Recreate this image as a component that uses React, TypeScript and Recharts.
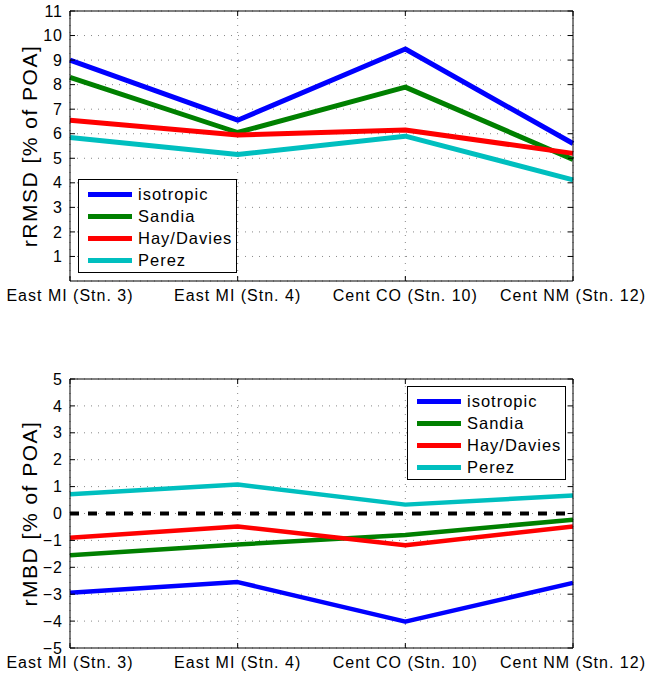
import React from "react"
import {
  LineChart,
  Line,
  XAxis,
  YAxis,
  CartesianGrid,
  ReferenceLine,
  Legend,
} from "recharts"

const FONT = '"Liberation Sans", Arial, Helvetica, sans-serif'

// stations along the x axis
const stations = ["East MI (Stn. 3)", "East MI (Stn. 4)", "Cent CO (Stn. 10)", "Cent NM (Stn. 12)"]

// relative RMS difference, % of plane-of-array irradiance
const rmsdIsotropic = [9.0, 6.55, 9.45, 5.6]
const rmsdSandia = [8.3, 6.05, 7.9, 4.95]
const rmsdHayDavies = [6.55, 5.95, 6.15, 5.2]
const rmsdPerez = [5.85, 5.15, 5.9, 4.12]

// relative mean bias difference, % of plane-of-array irradiance
const mbdIsotropic = [-2.95, -2.55, -4.02, -2.58]
const mbdSandia = [-1.55, -1.15, -0.8, -0.23]
const mbdHayDavies = [-0.9, -0.48, -1.18, -0.48]
const mbdPerez = [0.72, 1.08, 0.33, 0.67]

const rmsdTicks = [1, 2, 3, 4, 5, 6, 7, 8, 9, 10, 11]
const mbdTicks = [-5, -4, -3, -2, -1, 0, 1, 2, 3, 4, 5]

const models = [
  { key: "isotropic", color: "#0000FF" },
  { key: "Sandia", color: "#008000" },
  { key: "Hay/Davies", color: "#FF0000" },
  { key: "Perez", color: "#00BFBF" },
]
const modelOrder = models.map((m) => m.key)

const rmsdData = stations.map((name, i) => ({
  name,
  isotropic: rmsdIsotropic[i],
  Sandia: rmsdSandia[i],
  "Hay/Davies": rmsdHayDavies[i],
  Perez: rmsdPerez[i],
}))

const mbdData = stations.map((name, i) => ({
  name,
  isotropic: mbdIsotropic[i],
  Sandia: mbdSandia[i],
  "Hay/Davies": mbdHayDavies[i],
  Perez: mbdPerez[i],
}))

const tickStyle = { fontSize: 16, fill: "#000", fontFamily: FONT, letterSpacing: 1 }
const minus = (v: number) => String(v).replace("-", "\u2212")

function AxisTitle({ viewBox, text }: any) {
  const px = 37
  const py = (viewBox?.y ?? 0) + (viewBox?.height ?? 0) / 2
  return (
    <text
      x={px}
      y={py}
      transform={`rotate(-90 ${px} ${py})`}
      textAnchor="middle"
      fontSize={21}
      letterSpacing={1.5}
      fontFamily={FONT}
      fill="#000"
    >
      {text}
    </text>
  )
}

function LegendBox({ payload }: any) {
  // keep the plotting order rather than the alphabetical one
  const items = [...(payload || [])].sort(
    (a: any, b: any) => modelOrder.indexOf(a.value) - modelOrder.indexOf(b.value)
  )
  return (
    <div
      style={{
        border: "1px solid #000",
        background: "#fff",
        width: 159,
        height: 94,
        boxSizing: "border-box",
        paddingTop: 3,
        paddingLeft: 9,
        fontFamily: FONT,
        fontSize: 16.5,
        letterSpacing: 1,
        color: "#000",
      }}
    >
      {items.map((p: any) => (
        <div key={p.value} style={{ display: "flex", alignItems: "center", height: 22 }}>
          <span style={{ display: "inline-block", width: 44, height: 5, background: p.color, marginRight: 6 }} />
          <span>{p.value}</span>
        </div>
      ))}
    </div>
  )
}

function Panel({
  data,
  domain,
  ticks,
  title,
  height,
  margin,
  xHeight,
  legendTop,
  legendLeft,
  lineWidth,
  zeroLine,
}: any) {
  return (
    <LineChart width={647} height={height} data={data} margin={margin}>
      <CartesianGrid
        xAxisId="b"
        yAxisId="l"
        stroke="#888"
        strokeDasharray="1 6"
      />
      <XAxis
        xAxisId="b"
        dataKey="name"
        interval={0}
        height={xHeight}
        padding={{ left: 0, right: 0 }}
        axisLine={{ stroke: "#000" }}
        tickLine={{ stroke: "#000" }}
        tickSize={-5}
        tickMargin={14}
        tick={tickStyle}
      />
      <XAxis
        xAxisId="t"
        dataKey="name"
        orientation="top"
        interval={0}
        height={1}
        padding={{ left: 0, right: 0 }}
        axisLine={{ stroke: "#000" }}
        tickLine={{ stroke: "#000" }}
        tickSize={-5}
        tickFormatter={() => ""}
      />
      <YAxis
        yAxisId="l"
        width={70}
        domain={domain}
        ticks={ticks}
        interval={0}
        allowDataOverflow
        axisLine={{ stroke: "#000" }}
        tickLine={{ stroke: "#000" }}
        tickSize={-5}
        tickMargin={12}
        tick={tickStyle}
        tickFormatter={minus}
        label={<AxisTitle text={title} />}
      />
      <YAxis
        yAxisId="r"
        orientation="right"
        width={1}
        domain={domain}
        ticks={ticks}
        interval={0}
        allowDataOverflow
        axisLine={{ stroke: "#000" }}
        tickLine={{ stroke: "#000" }}
        tickSize={-5}
        tickFormatter={() => ""}
      />
      {zeroLine && (
        <ReferenceLine
          xAxisId="b"
          yAxisId="l"
          y={0}
          stroke="#000"
          strokeWidth={4}
          strokeDasharray="9 9"
        />
      )}
      {models.map((m) => (
        <Line
          key={m.key}
          xAxisId="b"
          yAxisId="l"
          type="linear"
          dataKey={m.key}
          name={m.key}
          stroke={m.color}
          strokeWidth={lineWidth}
          strokeLinejoin="round"
          dot={false}
          activeDot={false}
          isAnimationActive={false}
        />
      ))}
      <Legend
        layout="vertical"
        align="center"
        verticalAlign="middle"
        content={<LegendBox />}
        wrapperStyle={{ left: legendLeft, top: legendTop, width: 159, height: 94 }}
      />
    </LineChart>
  )
}

export default function App() {
  return (
    <div
      style={{
        position: "absolute",
        left: 0,
        top: 0,
        width: 647,
        height: 678,
        background: "#fff",
        fontFamily: FONT,
      }}
    >
      <div style={{ position: "absolute", left: 0, top: 0 }}>
        <Panel
          data={rmsdData}
          domain={[0, 11]}
          ticks={rmsdTicks}
          title="rRMSD [% of POA]"
          height={340}
          margin={{ top: 10, right: 73, bottom: 19, left: 0 }}
          xHeight={40}
          legendLeft={78}
          legendTop={179}
          lineWidth={5}
        />
      </div>
      <div style={{ position: "absolute", left: 0, top: 340 }}>
        <Panel
          data={mbdData}
          domain={[-5, 5]}
          ticks={mbdTicks}
          title="rMBD [% of POA]"
          height={338}
          margin={{ top: 38, right: 73, bottom: 0, left: 0 }}
          xHeight={30}
          legendLeft={407}
          legendTop={46}
          lineWidth={4.5}
          zeroLine
        />
      </div>
    </div>
  )
}
